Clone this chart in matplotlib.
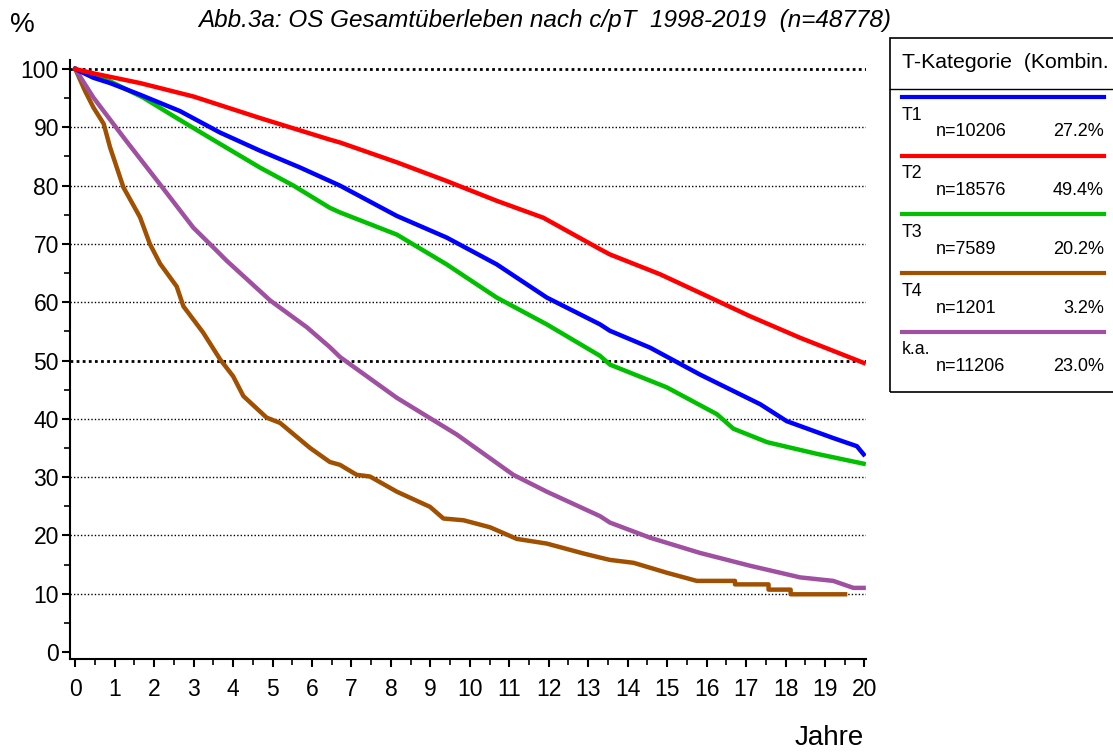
import numpy as np
import matplotlib
matplotlib.use('Agg')
import matplotlib.pyplot as plt
from matplotlib.lines import Line2D
from matplotlib.patches import Rectangle
from matplotlib.ticker import MultipleLocator

plt.rcParams['font.family'] = ['Liberation Sans', 'DejaVu Sans']

# Kaplan-Meier Kurven (Jahre, %)
t1_x = [0, 0.46, 0.88, 1.64, 2.65, 3.67, 4.68, 5.7, 6.45, 6.71, 8.15, 9.41, 10.68, 11.95, 13.3, 13.55, 14.57, 15.83, 17.36, 18.03, 19.21, 19.81, 19.98]
t1_y = [100, 98.5, 97.6, 95.6, 92.8, 89.1, 86.0, 83.1, 80.8, 80.0, 74.8, 71.1, 66.5, 60.8, 56.2, 55.1, 52.2, 47.6, 42.5, 39.6, 36.7, 35.3, 33.9]

t2_x = [0, 0.5, 1.64, 2.99, 4.68, 6.45, 6.71, 8.15, 9.41, 10.68, 11.86, 13.3, 13.55, 14.82, 16.09, 17.1, 18.37, 19.98]
t2_y = [100, 99.2, 97.6, 95.3, 91.6, 87.9, 87.4, 84.0, 80.8, 77.4, 74.5, 69.1, 68.2, 64.8, 60.8, 57.6, 53.9, 49.6]

t3_x = [0, 0.88, 1.72, 2.57, 3.41, 4.68, 5.53, 6.45, 6.71, 8.15, 9.41, 10.68, 11.95, 13.3, 13.55, 14.99, 16.26, 16.68, 17.53, 18.79, 19.98]
t3_y = [100, 97.9, 95.1, 91.6, 88.2, 83.1, 80.0, 76.2, 75.4, 71.6, 66.5, 60.8, 56.2, 50.8, 49.3, 45.4, 40.8, 38.3, 36.0, 34.0, 32.3]

t4_x = [0, 0.25, 0.46, 0.72, 0.88, 1.22, 1.64, 1.89, 2.15, 2.57, 2.74, 3.24, 3.67, 4.0, 4.26, 4.85, 5.19, 5.95, 6.45, 6.71,
        7.13, 7.47, 8.15, 8.99, 9.33, 9.84, 10.51, 11.19, 11.95, 12.88, 13.3, 13.55, 14.15, 14.99, 15.75,
        16.72, 16.72, 17.57, 17.57, 18.13, 18.13, 19.51]
t4_y = [100, 96.2, 93.4, 90.6, 86.6, 79.7, 74.6, 70.0, 66.6, 62.7, 59.3, 54.8, 50.2, 47.3, 43.9, 40.2, 39.3, 35.0, 32.6, 32.1,
        30.4, 30.1, 27.5, 24.9, 22.9, 22.6, 21.4, 19.4, 18.6, 16.9, 16.2, 15.8, 15.3, 13.6, 12.2,
        12.2, 11.6, 11.6, 10.7, 10.7, 9.9, 9.9]

ka_x = [0, 0.46, 1.3, 2.15, 2.99, 3.5, 3.84, 4.94, 5.87, 6.45, 6.71, 8.15, 9.67, 11.1, 11.95, 13.3, 13.55, 14.57, 15.83, 17.1, 18.37, 19.21, 19.72, 19.98]
ka_y = [100, 95.1, 87.6, 80.2, 72.8, 69.4, 67.1, 60.3, 55.7, 52.3, 50.6, 43.6, 37.3, 30.4, 27.5, 23.3, 22.2, 19.6, 17.0, 14.8, 12.8, 12.2, 11.0, 11.0]

labels = ['T1', 'T2', 'T3', 'T4', 'k.a.']
counts = ['n=10206', 'n=18576', 'n=7589', 'n=1201', 'n=11206']
shares = ['27.2%', '49.4%', '20.2%', '3.2%', '23.0%']
farben = ['#0000ff', '#ff0000', '#00c000', '#a05000', '#a050a0']
kurven = [(t1_x, t1_y), (t2_x, t2_y), (t3_x, t3_y), (t4_x, t4_y), (ka_x, ka_y)]

fig = plt.figure(figsize=(11.13, 7.54), dpi=100)
ax = fig.add_axes([70/1113, 1-659/754, 796/1113, (659-60.3)/754])

for y in range(10, 101, 10):
    if y in (50, 100):
        ax.axhline(y, color='k', lw=2, ls=(0, (1, 1.2)), zorder=1)
    else:
        ax.axhline(y, color='k', lw=1, ls=(0, (1, 1.5)), zorder=1)

# T4 zuerst, damit die anderen darueber liegen
for i in [3, 4, 2, 0, 1]:
    x, y = kurven[i]
    ax.plot(x, y, color=farben[i], lw=3.2, solid_joinstyle='round', zorder=3)

ax.set_xlim(-0.134, 20.04)
ax.set_ylim(-1.2, 101.5)
ax.spines['top'].set_visible(False)
ax.spines['right'].set_visible(False)
ax.spines['left'].set_linewidth(1.5)
ax.spines['bottom'].set_linewidth(1.5)
ax.set_xticks(range(0, 21))
ax.set_yticks(range(0, 101, 10))
ax.xaxis.set_minor_locator(MultipleLocator(0.5))
ax.yaxis.set_minor_locator(MultipleLocator(5))
ax.tick_params(axis='both', which='major', labelsize=16.5, width=1.5, length=6, direction='out')
ax.tick_params(axis='both', which='minor', width=1.2, length=4)
ax.tick_params(axis='x', pad=8)
ax.tick_params(axis='y', pad=2)

fig.text(22/1113, 1-25/754, '%', fontsize=20, ha='center', va='center')
fig.text(829/1113, 1-738/754, 'Jahre', fontsize=20, ha='center', va='center')
fig.text(545/1113, 1-20/754, 'Abb.3a: OS Gesamtüberleben nach c/pT  1998-2019  (n=48778)',
         fontsize=17.5, style='italic', ha='center', va='center')

# Legende rechts
def fx(px):
    return px/1113
def fy(py):
    return 1-py/754

fig.add_artist(Rectangle((fx(890), fy(392)), fx(1125)-fx(890), fy(38)-fy(392),
                         transform=fig.transFigure, fill=False, ec='k', lw=1.2, clip_on=False))
fig.add_artist(Line2D([fx(890), fx(1113)], [fy(89), fy(89)], transform=fig.transFigure, color='k', lw=1))
fig.text(fx(902), fy(63), 'T-Kategorie  (Kombin.', fontsize=15.3, ha='left', va='center')
for i in range(5):
    y0 = 97 + i*58.7
    fig.add_artist(Line2D([fx(902), fx(1104)], [fy(y0), fy(y0)], transform=fig.transFigure,
                          color=farben[i], lw=3))
    fig.text(fx(902), fy(y0+18), labels[i], fontsize=12.8, ha='left', va='center')
    fig.text(fx(936), fy(y0+35), counts[i], fontsize=13, ha='left', va='center')
    fig.text(fx(1104), fy(y0+35), shares[i], fontsize=13, ha='right', va='center')

fig.savefig('out.png', dpi=100)
